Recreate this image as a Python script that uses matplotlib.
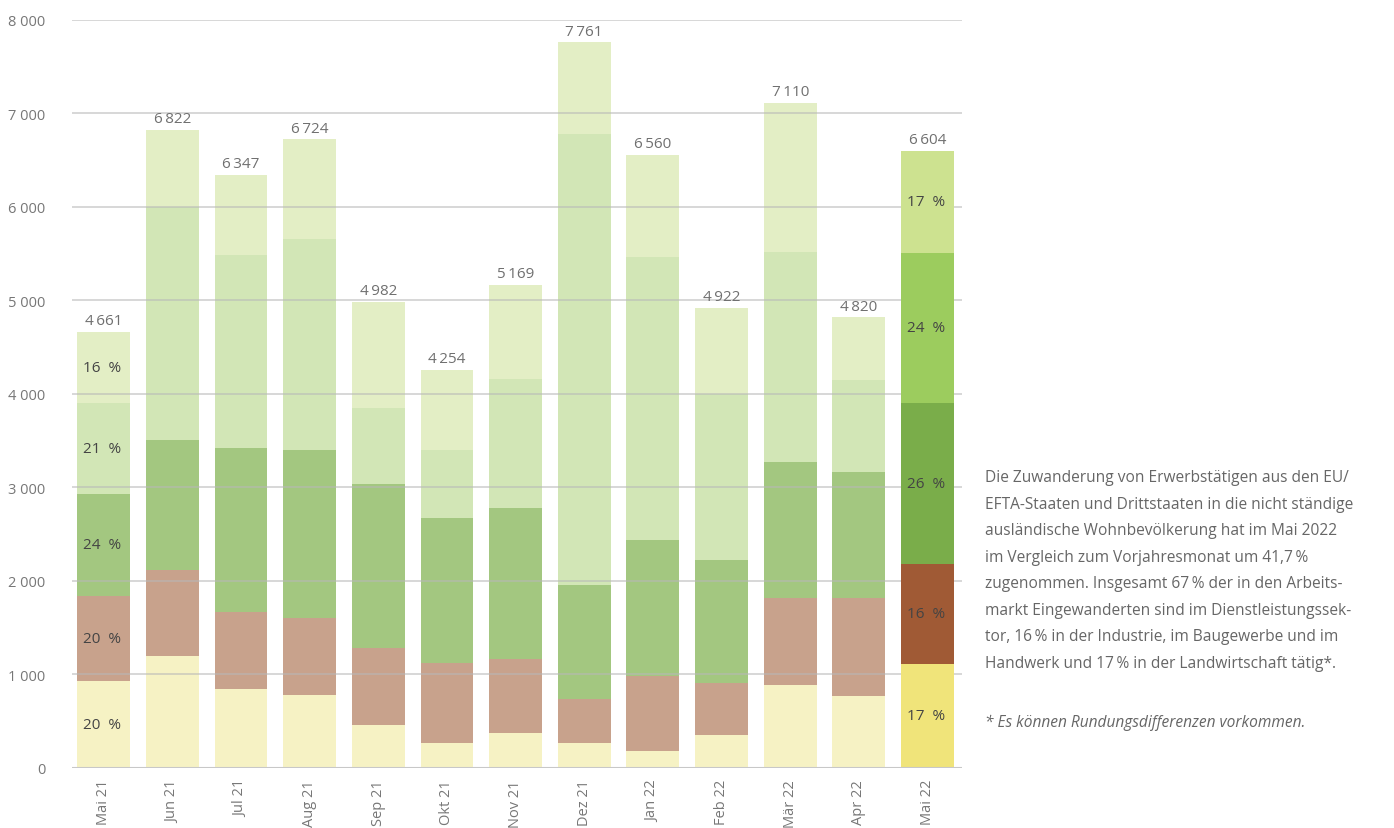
import numpy as np
import matplotlib.pyplot as plt

plt.rcParams['font.family'] = ['Open Sans', 'DejaVu Sans']

months = ['Mai 21', 'Jun 21', 'Jul 21', 'Aug 21', 'Sep 21', 'Okt 21', 'Nov 21',
          'Dez 21', 'Jan 22', 'Feb 22', 'Mär 22', 'Apr 22', 'Mai 22']
totals = [4661, 6822, 6347, 6724, 4982, 4254, 5169, 7761, 6560, 4922, 7110, 4820, 6604]

# cumulative tops of the lower four segments
top_agri = [930, 1198, 845, 781, 460, 267, 374, 267, 182, 353, 888, 770, 1112]
top_ind = [1840, 2118, 1668, 1604, 1283, 1123, 1166, 738, 984, 909, 1818, 1818, 2182]
top_s1 = [2930, 3508, 3422, 3401, 3037, 2674, 2781, 1957, 2439, 2225, 3273, 3166, 3904]
top_s2 = [3904, 6000, 5487, 5658, 3850, 3401, 4160, 6781, 5465, 4000, 5519, 4150, 5508]

pct_first = [20, 20, 24, 21, 16]
pct_last = [17, 16, 26, 24, 17]

colors = ['#f0e47a', '#a05a35', '#7aad4a', '#9ccc5e', '#cde290']
faded = ['#f6f2c4', '#c8a28c', '#a3c780', '#d2e6b6', '#e3eec5']

tops = np.array([top_agri, top_ind, top_s1, top_s2, totals], dtype=float)
bottoms = np.vstack([np.zeros(len(months)), tops[:-1]])

fig = plt.figure(figsize=(13.94, 8.29), dpi=100)
ax = fig.add_axes([0.0517, 0.0724, 0.6383, 0.9023])

x = np.arange(len(months))
w = 0.77
n = len(months)
for k in range(5):
    h = tops[k] - bottoms[k]
    ax.bar(x[:-1], h[:-1], w, bottom=bottoms[k][:-1], color=faded[k], zorder=2)
    ax.bar(x[-1], h[-1], w, bottom=bottoms[k][-1], color=colors[k], zorder=4)

for yv in range(1000, 8001, 1000):
    ax.axhline(yv, color='#b8b8b8', lw=1.1, alpha=0.7, zorder=3)
ax.axhline(0, color='#c8c8c8', lw=1.5, zorder=5)

for i in range(n):
    ax.text(x[i], totals[i] + 40, f'{totals[i]:,}'.replace(',', '\u2009'),
            ha='center', va='bottom', fontsize=11, color='#707070', zorder=6)

for k in range(5):
    mid0 = (tops[k][0] + bottoms[k][0]) / 2
    ax.text(x[0] - 0.02, mid0, f'{pct_first[k]}  %', ha='center', va='center',
            fontsize=11, color='#444444', zorder=6)
    mid1 = (tops[k][-1] + bottoms[k][-1]) / 2
    ax.text(x[-1] - 0.02, mid1, f'{pct_last[k]}  %', ha='center', va='center',
            fontsize=11, color='#444444', zorder=6)

ax.set_xlim(-0.46, 12.5)
ax.set_ylim(0, 8000)
ax.set_yticks(range(0, 8001, 1000))
ax.set_yticklabels([f'{v:,}'.replace(',', ' ') for v in range(0, 8001, 1000)])
ax.set_xticks(x)
ax.set_xticklabels(months, rotation=90)
ax.tick_params(axis='both', length=0, colors='#777777', labelsize=10.5)
ax.tick_params(axis='y', pad=19)
ax.tick_params(axis='x', pad=8)
for s in ax.spines.values():
    s.set_visible(False)

body = ('Die Zuwanderung von Erwerbstätigen aus den EU/\n'
        'EFTA-Staaten und Drittstaaten in die nicht ständige\n'
        'ausländische Wohnbevölkerung hat im Mai 2022\n'
        'im Vergleich zum Vorjahresmonat um 41,7\u2009%\n'
        'zugenommen. Insgesamt 67\u2009% der in den Arbeits-\n'
        'markt Eingewanderten sind im Dienstleistungssek-\n'
        'tor, 16\u2009% in der Industrie, im Baugewerbe und im\n'
        'Handwerk und 17\u2009% in der Landwirtschaft tätig*.')
fig.text(985 / 1394, 1 - 470 / 829, body, ha='left', va='top', fontsize=11.2,
         color='#666666', linespacing=1.88)
fig.text(985 / 1394, 1 - 723 / 829, '* Es können Rundungsdifferenzen vorkommen.',
         ha='left', va='center', fontsize=11.2, color='#666666', style='italic')

fig.savefig('out.png', dpi=100)
